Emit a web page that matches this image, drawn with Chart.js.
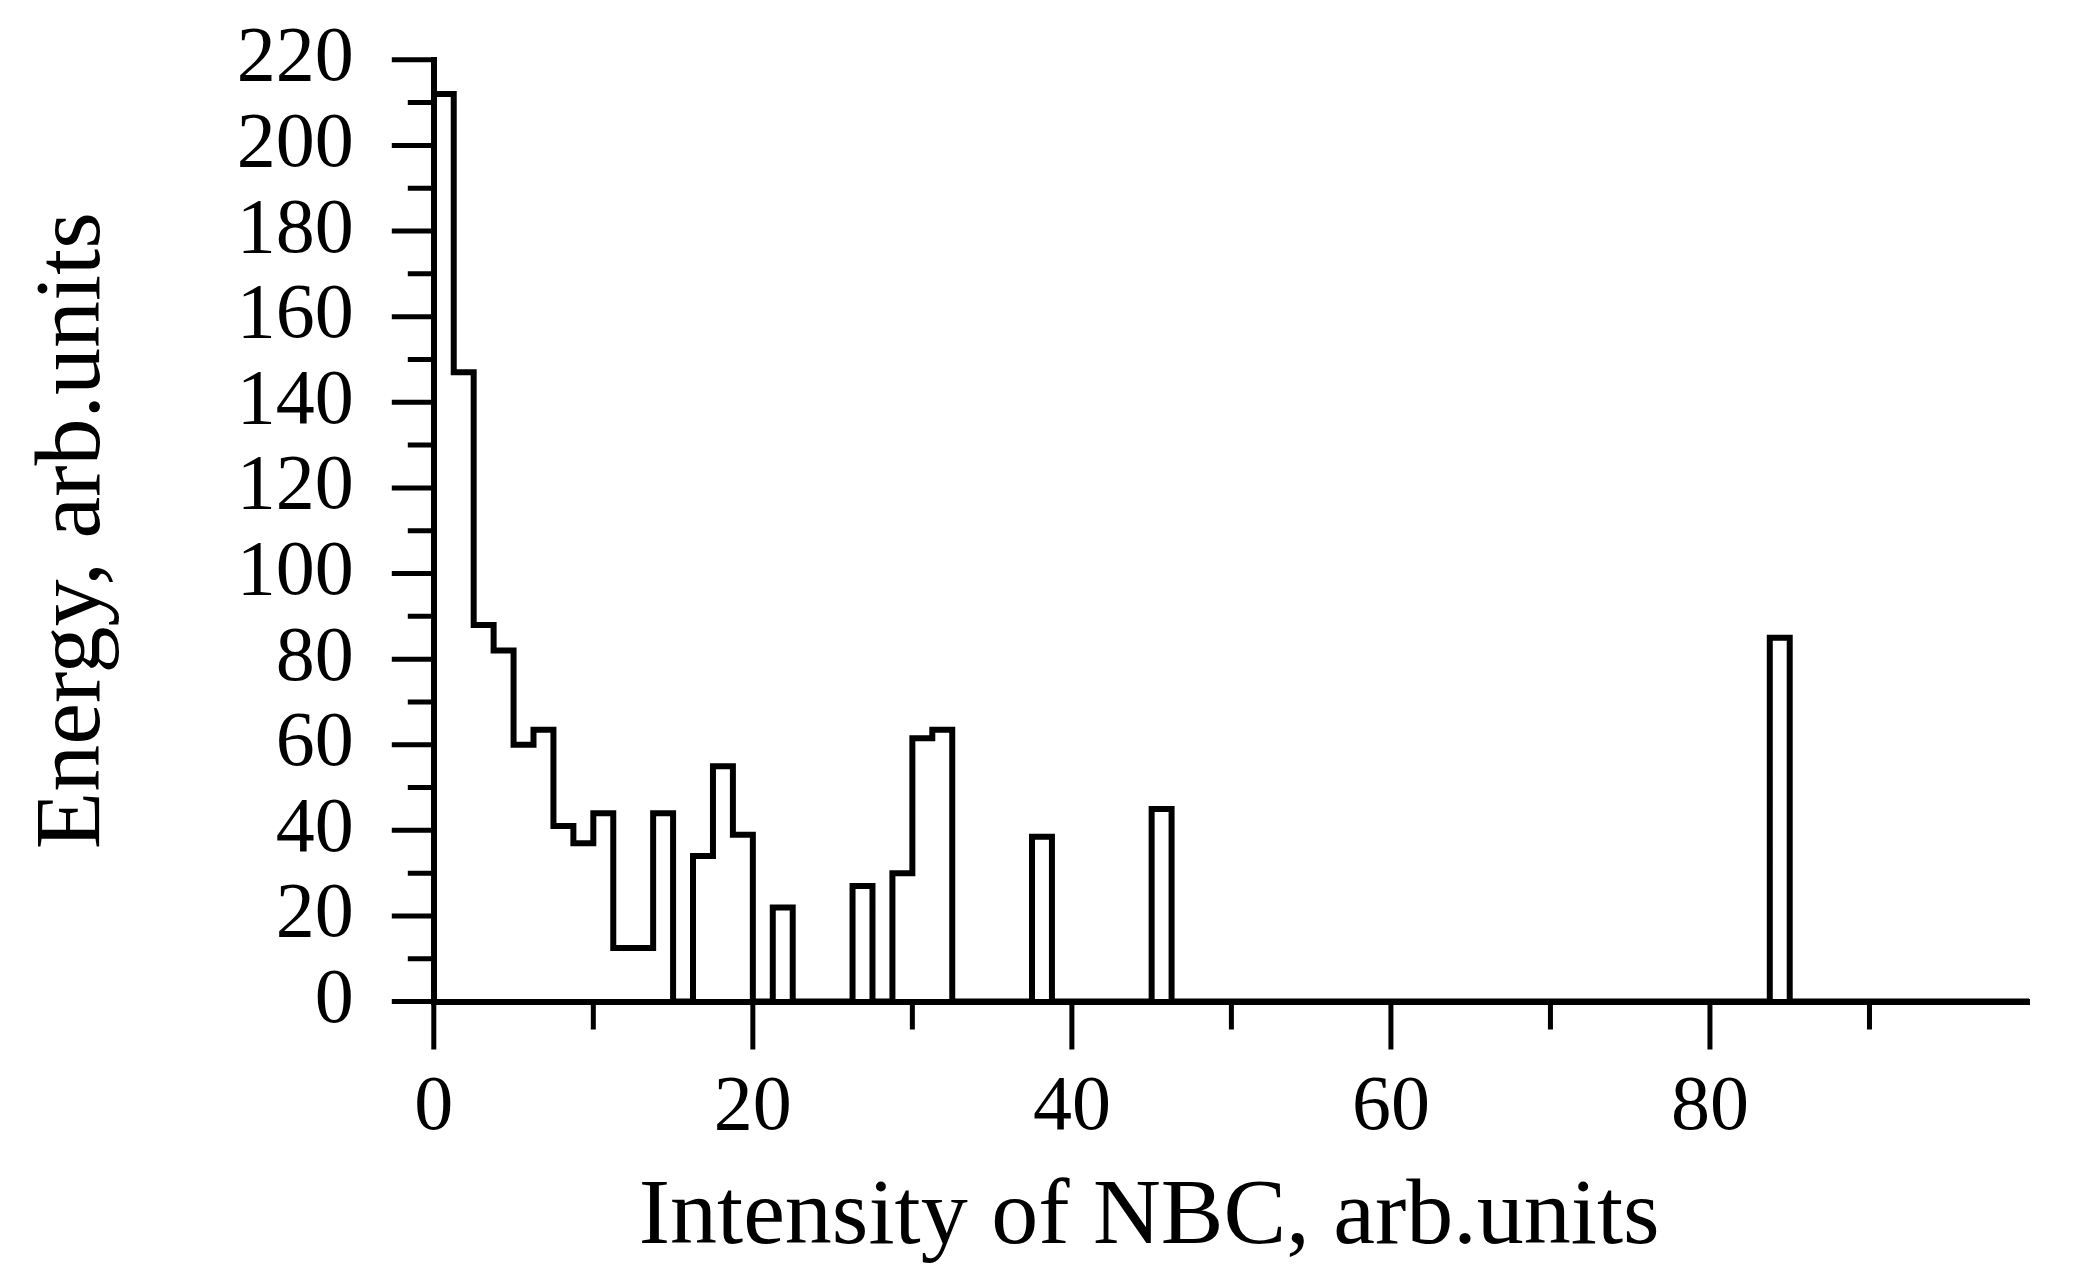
<!DOCTYPE html>
<html>
<head>
<meta charset="utf-8">
<script src="https://cdn.jsdelivr.net/npm/chart.js@4"></script>
<style>
  html, body { margin: 0; padding: 0; background: #fff; overflow: hidden; }
  #wrap { width: 2081px; height: 1350px; margin-top: -59px; }
</style>
</head>
<body>
<div id="wrap"><canvas id="myChart"></canvas></div>
<script>
'use strict';

// histogram bins, width 1.25 starting at 0
const binWidth = 1.25;
const energy = [
  212, 147, 88, 82, 60, 63.5, 41, 37, 44, 12.5,
  12.5, 44, 0, 34, 55, 39, 0, 22, 0, 0,
  0, 27, 0, 30, 61.5, 63.5, 0, 0, 0, 0,
  38.5, 0, 0, 0, 0, 0, 45, 0, 0, 0,
  0, 0, 0, 0, 0, 0, 0, 0, 0, 0,
  0, 0, 0, 0, 0, 0, 0, 0, 0, 0,
  0, 0, 0, 0, 0, 0, 0, 85, 0, 0,
  0, 0, 0, 0, 0, 0, 0, 0, 0, 0,
];
const xLabels = [0, 20, 40, 60, 80];

const serif = '"Liberation Serif", "DejaVu Serif", serif';
const tickFont = { family: serif, size: 78 };
const titleFont = { family: serif, size: 94 };

// step outline: each bin's value is held up to its right edge
const outline = [{ x: 0, y: 0 }];
energy.forEach((v, i) => outline.push({ x: (i + 1) * binWidth, y: v }));
outline.push({ x: energy.length * binWidth, y: 0 });

// tick marks: majors long, minors short, drawn outside the axes
const tickMarks = {
  id: 'tickMarks',
  afterDraw(chart) {
    const { ctx, scales: { x, y } } = chart;
    ctx.save();
    ctx.strokeStyle = '#000';
    ctx.lineWidth = 5;
    ctx.beginPath();
    for (let v = 0; v <= 90; v += 10) {
      const px = x.getPixelForValue(v);
      const len = v % 20 === 0 ? 48 : 28;
      ctx.moveTo(px, x.top);
      ctx.lineTo(px, x.top + len);
    }
    for (let v = 0; v <= 220; v += 10) {
      const py = y.getPixelForValue(v);
      const len = v % 20 === 0 ? 42 : 26;
      ctx.moveTo(y.right, py);
      ctx.lineTo(y.right - len, py);
    }
    ctx.stroke();
    ctx.restore();
  },
};

const ctx = document.getElementById('myChart');

new Chart(ctx, {
  type: 'line',
  data: {
    datasets: [
      {
        data: outline,
        stepped: 'after',
        borderColor: '#000',
        borderWidth: 6,
        pointRadius: 0,
        fill: false,
      },
    ],
  },
  plugins: [tickMarks],
  options: {
    responsive: true,
    maintainAspectRatio: false,
    animation: false,
    layout: { padding: { top: 0, right: 24, left: 14, bottom: 4 } },
    plugins: { legend: { display: false }, tooltip: { enabled: false } },
    scales: {
      x: {
        type: 'linear',
        min: 0,
        max: 100,
        offset: false,
        grid: { display: false },
        border: { display: true, color: '#000', width: 6 },
        ticks: {
          stepSize: 10,
          color: '#000',
          font: tickFont,
          padding: 52,
          maxRotation: 0,
          autoSkip: false,
          callback: (v) => (xLabels.includes(v) ? v : ''),
        },
        title: {
          display: true,
          text: 'Intensity of NBC, arb.units       ',
          color: '#000',
          font: titleFont,
          padding: { top: -45, bottom: 12 },
        },
      },
      y: {
        min: 0,
        max: 220,
        grid: { display: false },
        border: { display: true, color: '#000', width: 6 },
        ticks: { stepSize: 20, color: '#000', font: tickFont, padding: 72, autoSkip: false },
        title: {
          display: true,
          text: 'Energy, arb.units',
          color: '#000',
          font: titleFont,
          padding: { bottom: 34 },
        },
      },
    },
  },
});
</script>
</body>
</html>
